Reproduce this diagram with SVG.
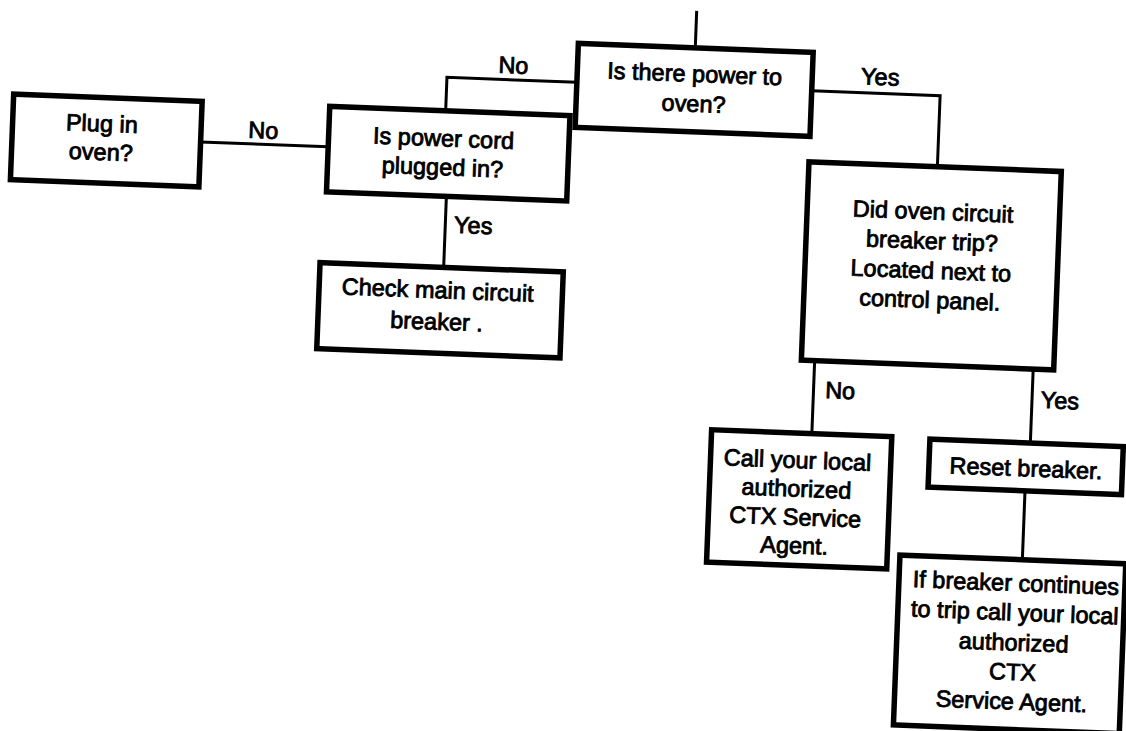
<svg xmlns="http://www.w3.org/2000/svg" width="1126" height="731" viewBox="0 0 1126 731">
  <style>
    .box { fill: #fff; stroke: #000; stroke-width: 5.5; }
    .conn { fill: none; stroke: #000; stroke-width: 3; }
    text { font-family: "Liberation Sans", Arial, Helvetica, sans-serif; font-size: 23.5px; fill: #000; stroke: #000; stroke-width: 0.85; text-anchor: middle; }
  </style>
  <rect x="0" y="0" width="1126" height="731" fill="#fff"/>
  <g transform="rotate(2.2 563 365)">
    <g id="connectors">
      <path class="conn" d="M683 6 V43"/>
      <path class="conn" d="M566 82 H436 V115.5"/>
      <path class="conn" d="M801 81.5 H929.5 V152.5"/>
      <path class="conn" d="M192 156 H320"/>
      <path class="conn" d="M440 201 V272"/>
      <path class="conn" d="M814.3 351 V424"/>
      <path class="conn" d="M1033 351 V425"/>
      <path class="conn" d="M1029.5 473 V542"/>
      <text x="502" y="75.5">No</text>
      <text x="869" y="73">Yes</text>
      <text x="254.5" y="150">No</text>
      <text x="468" y="237">Yes</text>
      <text x="841" y="388">No</text>
      <text x="1061" y="389.5">Yes</text>
    </g>
    <g id="node-power">
      <rect class="box" x="566" y="43" width="235" height="84"/>
      <text x="683.5" y="77">Is there power to</text>
      <text x="683.5" y="107">oven?</text>
    </g>
    <g id="node-plug">
      <rect class="box" x="3.7" y="115.5" width="188.6" height="85.5"/>
      <text x="93" y="149.5">Plug in</text>
      <text x="93" y="178">oven?</text>
    </g>
    <g id="node-cord">
      <rect class="box" x="320" y="115.5" width="240.4" height="85.5"/>
      <text x="435" y="151">Is power cord</text>
      <text x="435" y="180">plugged in?</text>
    </g>
    <g id="node-main-breaker">
      <rect class="box" x="316.3" y="272" width="243.4" height="86"/>
      <text x="435" y="303">Check main circuit</text>
      <text x="435" y="334.5">breaker .</text>
    </g>
    <g id="node-oven-breaker">
      <rect class="box" x="801" y="152.5" width="252.5" height="198.5"/>
      <text x="927" y="205.5">Did oven circuit</text>
      <text x="927" y="235">breaker trip?</text>
      <text x="927" y="264.5">Located next to</text>
      <text x="927" y="294">control panel.</text>
    </g>
    <g id="node-call-agent">
      <rect class="box" x="714" y="424" width="180.3" height="132.4"/>
      <text x="801" y="459">Call your local</text>
      <text x="801" y="487.5">authorized</text>
      <text x="801" y="516">CTX Service</text>
      <text x="801" y="544.5">Agent.</text>
    </g>
    <g id="node-reset">
      <rect class="box" x="932.5" y="425" width="193.5" height="48"/>
      <text x="1029.5" y="458.5">Reset breaker.</text>
    </g>
    <g id="node-continues">
      <rect class="box" x="907" y="542" width="226" height="170"/>
      <text x="1024" y="573.5">If breaker continues</text>
      <text x="1024" y="603">to trip call your local</text>
      <text x="1024" y="633">authorized</text>
      <text x="1024" y="662.5">CTX</text>
      <text x="1024" y="692">Service Agent.</text>
    </g>
  </g>
</svg>
